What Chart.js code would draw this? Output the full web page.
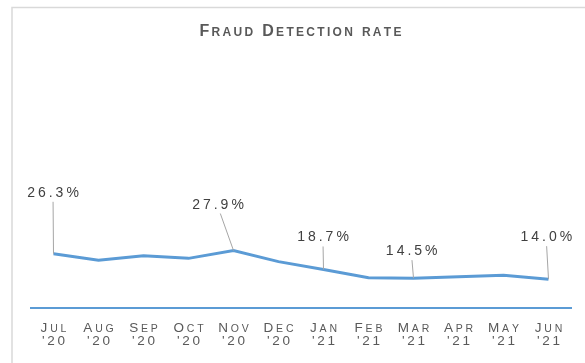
<!DOCTYPE html>
<html>
<head>
<meta charset="utf-8">
<script src="https://cdn.jsdelivr.net/npm/chart.js@4"></script>
<style>
  html, body { margin: 0; padding: 0; background: #fff; }
  #wrap { width: 585px; height: 363px; }
</style>
</head>
<body>
<div id="wrap"><canvas id="fraudChart" width="585" height="363"></canvas></div>
<script>
// Monthly fraud detection rate, Jul '20 - Jun '21
const chartTitle = "Fraud Detection rate";
const months = ["Jul", "Aug", "Sep", "Oct", "Nov", "Dec", "Jan", "Feb", "Mar", "Apr", "May", "Jun"];
const years = ["'20", "'20", "'20", "'20", "'20", "'20", "'21", "'21", "'21", "'21", "'21", "'21"];
const detectionRate = [26.3, 23.2, 25.4, 24.1, 27.9, 22.5, 18.7, 14.7, 14.5, 15.2, 15.9, 14.0];
const labelledPoints = [0, 4, 6, 8, 11];

// callout placement relative to its point: [dx of text centre, dy of text baseline]
const calloutOffsets = {
  0: [-0.5, -57],
  4: [-15.5, -42],
  6: [-0.5, -28],
  8: [-1.8, -23],
  11: [-2.2, -38]
};

const FONT = "'Liberation Sans', Arial, sans-serif";

// draws text with capitals full size and lowercase letters as small capitals
function drawSmallCaps(ctx, text, cx, y, opt) {
  const parts = [];
  for (const ch of text) {
    const small = ch !== ch.toUpperCase();
    parts.push({ ch: ch.toUpperCase(), font: `${opt.weight || "normal"} ${small ? opt.small : opt.big}px ${FONT}` });
  }
  let total = 0;
  parts.forEach((p, i) => {
    ctx.font = p.font;
    p.w = ctx.measureText(p.ch).width;
    total += p.w + (i ? opt.spacing : 0);
  });
  let x = cx - total / 2;
  ctx.fillStyle = opt.color;
  ctx.textAlign = "left";
  ctx.textBaseline = "alphabetic";
  parts.forEach(p => {
    ctx.font = p.font;
    ctx.fillText(p.ch, x, y);
    x += p.w + opt.spacing;
  });
}

const decorations = {
  id: "decorations",
  beforeDraw(chart) {
    const ctx = chart.ctx;
    ctx.save();
    ctx.fillStyle = "#fff";
    ctx.fillRect(0, 0, chart.width, chart.height);
    ctx.strokeStyle = "#D9D9D9";
    ctx.lineWidth = 1.5;
    ctx.strokeRect(12, 7.5, 620, 400);
    ctx.restore();
  },
  afterDraw(chart) {
    const ctx = chart.ctx;
    const xs = chart.scales.x;
    const ys = chart.scales.y;
    const bottom = chart.chartArea.bottom;
    ctx.save();

    drawSmallCaps(ctx, chartTitle, 300.5, 35.5, { big: 16, small: 12, weight: "bold", spacing: 2.3, color: "#595959" });

    months.forEach((m, i) => {
      const x = xs.getPixelForValue(i);
      drawSmallCaps(ctx, m, x, bottom + 24, { big: 13.5, small: 10.5, spacing: 2.8, color: "#595959" });
      drawSmallCaps(ctx, years[i], x, bottom + 37, { big: 13.5, small: 10.5, spacing: 2.6, color: "#595959" });
    });

    // value callouts with leader lines
    labelledPoints.forEach(i => {
      const px = xs.getPixelForValue(i);
      const py = ys.getPixelForValue(detectionRate[i]);
      const [dx, dy] = calloutOffsets[i];
      const lx = px + dx;
      const ly = py + dy;
      ctx.strokeStyle = "#A6A6A6";
      ctx.lineWidth = 1;
      ctx.beginPath();
      ctx.moveTo(px + dx * 0.85, ly + 5);
      ctx.lineTo(px, py);
      ctx.stroke();
      drawSmallCaps(ctx, detectionRate[i].toFixed(1) + "%", lx, ly, { big: 14, small: 14, spacing: 3, color: "#404040" });
    });

    ctx.restore();
  }
};

new Chart(document.getElementById("fraudChart"), {
  type: "line",
  data: {
    labels: months.map((m, i) => m + " " + years[i]),
    datasets: [{
      label: "Fraud detection rate",
      data: detectionRate,
      borderColor: "#5B9BD5",
      borderWidth: 3,
      pointRadius: 0,
      tension: 0,
      fill: false
    }]
  },
  options: {
    responsive: false,
    animation: false,
    layout: { padding: { left: 31, right: 14, top: 102, bottom: 55 } },
    plugins: {
      legend: { display: false },
      tooltip: { enabled: false },
      title: { display: false }
    },
    scales: {
      x: {
        offset: true,
        grid: { display: false, drawTicks: false },
        border: { display: true, color: "#5B9BD5", width: 2 },
        ticks: { display: false }
      },
      y: { display: false, min: 0, max: 100 }
    }
  },
  plugins: [decorations]
});
</script>
</body>
</html>
